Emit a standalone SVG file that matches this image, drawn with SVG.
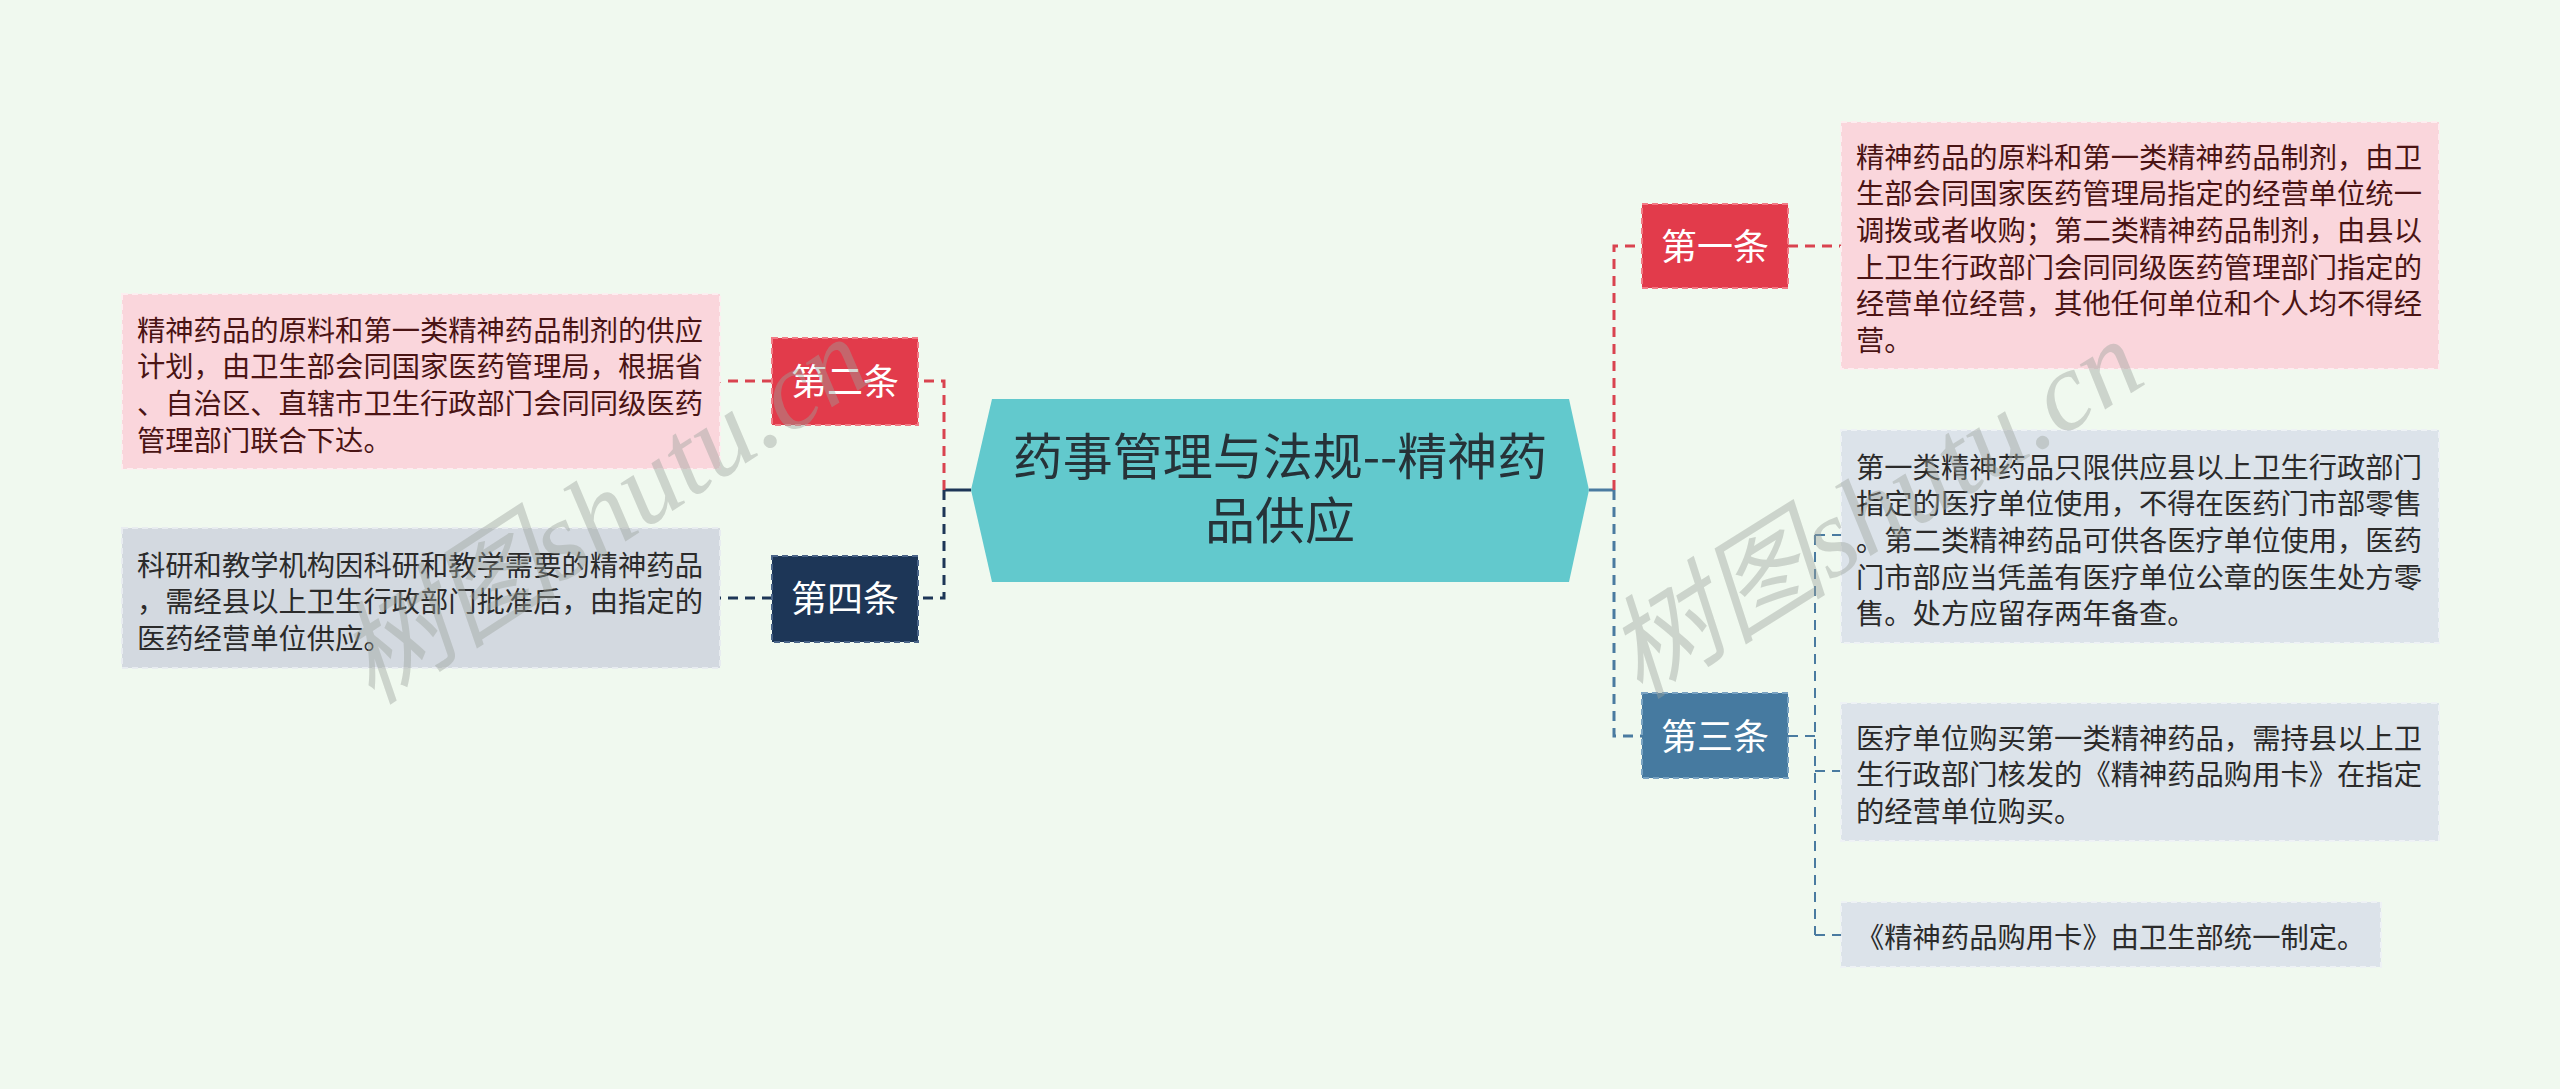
<svg xmlns="http://www.w3.org/2000/svg" width="2560" height="1089" viewBox="0 0 2560 1089">
<style>
.t{font-family:"Noto Sans CJK SC","Noto Sans",sans-serif;font-size:28.3px;fill:#2b2b2b}
.tr{fill:#4a1414}
.lab{font-family:"Noto Sans CJK SC","Noto Sans",sans-serif;font-size:36px;fill:#ffffff;text-anchor:middle}
.ctr{font-family:"Noto Sans CJK SC","Noto Sans",sans-serif;font-size:50px;fill:#263238;text-anchor:middle}
.c{fill:none;stroke-width:3;stroke-dasharray:10 7}
.cs{fill:none;stroke-width:2;stroke-dasharray:10 7}
.red{stroke:#d9434f}
.blue{stroke:#4a7ba0}
.navy{stroke:#1d3657}
.pink{fill:#fad6dc;stroke:#fdeef0;stroke-width:2;stroke-dasharray:6 4}
.grey{fill:#dce3ea;stroke:#eef2f5;stroke-width:2;stroke-dasharray:6 4}
.greyl{fill:#d3d9e0;stroke:#e8ecf0;stroke-width:2;stroke-dasharray:6 4}
.wm{font-family:"Liberation Serif","Noto Sans CJK SC",serif;font-size:112px;fill:#9aa39a;fill-opacity:0.42;font-style:italic}
</style>
<rect x="0" y="0" width="2560" height="1089" fill="#f0f9ef"/>

<g id="connectors">
  <line x1="1589" y1="490" x2="1614" y2="490" stroke="#4a7ba0" stroke-width="3"/>
  <path class="c red" d="M1614,490 V246 H1642"/>
  <path class="c red" d="M1788,246 H1841"/>
  <path class="c blue" d="M1614,490 V736 H1642"/>
  <path class="cs blue" d="M1788,736 H1815"/>
  <path class="cs blue" d="M1815,535 V935"/>
  <path class="cs blue" d="M1815,535 H1841"/>
  <path class="cs blue" d="M1815,771 H1841"/>
  <path class="cs blue" d="M1815,935 H1841"/>
  <line x1="971" y1="490" x2="944" y2="490" stroke="#1d3657" stroke-width="3"/>
  <path class="c red" d="M944,490 V381 H918"/>
  <path class="c red" d="M772,381 H720"/>
  <path class="c navy" d="M944,490 V598 H918"/>
  <path class="c navy" d="M772,598 H720"/>
</g>

<g id="center">
  <polygon points="992,399 1569,399 1589,490 1569,582 992,582 971,490" fill="#62c9cd"/>
  <text class="ctr" x="1280" y="475">药事管理与法规--精神药</text>
  <text class="ctr" x="1280" y="539">品供应</text>
</g>

<g id="n1">
  <rect x="1642" y="204" width="146" height="84" fill="#e23b4b" stroke="#f27a85" stroke-width="2" stroke-dasharray="6 4"/>
  <text class="lab" x="1715" y="260">第一条</text>
</g>
<g id="n1c">
  <rect class="pink" x="1841" y="122" width="598" height="247"/>
  <text class="t tr" x="1856" y="168">精神药品的原料和第一类精神药品制剂，由卫</text>
  <text class="t tr" x="1856" y="204.4">生部会同国家医药管理局指定的经营单位统一</text>
  <text class="t tr" x="1856" y="241">调拨或者收购；第二类精神药品制剂，由县以</text>
  <text class="t tr" x="1856" y="277.6">上卫生行政部门会同同级医药管理部门指定的</text>
  <text class="t tr" x="1856" y="314.2">经营单位经营，其他任何单位和个人均不得经</text>
  <text class="t tr" x="1856" y="350.8">营。</text>
</g>

<g id="n3">
  <rect x="1642" y="693" width="146" height="85" fill="#467aa0" stroke="#7aa3c2" stroke-width="2" stroke-dasharray="6 4"/>
  <text class="lab" x="1715" y="750">第三条</text>
</g>
<g id="n3c1">
  <rect class="grey" x="1841" y="430" width="598" height="213"/>
  <text class="t" x="1856" y="477.8">第一类精神药品只限供应县以上卫生行政部门</text>
  <text class="t" x="1856" y="514.4">指定的医疗单位使用，不得在医药门市部零售</text>
  <text class="t" x="1856" y="551">。第二类精神药品可供各医疗单位使用，医药</text>
  <text class="t" x="1856" y="587.6">门市部应当凭盖有医疗单位公章的医生处方零</text>
  <text class="t" x="1856" y="624.2">售。处方应留存两年备查。</text>
</g>
<g id="n3c2">
  <rect class="grey" x="1841" y="703" width="598" height="138"/>
  <text class="t" x="1856" y="748.8">医疗单位购买第一类精神药品，需持县以上卫</text>
  <text class="t" x="1856" y="785.4">生行政部门核发的《精神药品购用卡》在指定</text>
  <text class="t" x="1856" y="822">的经营单位购买。</text>
</g>
<g id="n3c3">
  <rect class="grey" x="1841" y="902" width="540" height="65"/>
  <text class="t" x="1856" y="947.8">《精神药品购用卡》由卫生部统一制定。</text>
</g>

<g id="n2">
  <rect x="772" y="338" width="146" height="87" fill="#e23b4b" stroke="#f27a85" stroke-width="2" stroke-dasharray="6 4"/>
  <text class="lab" x="845" y="395">第二条</text>
</g>
<g id="n2c">
  <rect class="pink" x="122" y="294" width="598" height="175"/>
  <text class="t tr" x="137" y="340.8">精神药品的原料和第一类精神药品制剂的供应</text>
  <text class="t tr" x="137" y="377.4">计划，由卫生部会同国家医药管理局，根据省</text>
  <text class="t tr" x="137" y="414">、自治区、直辖市卫生行政部门会同同级医药</text>
  <text class="t tr" x="137" y="450.6">管理部门联合下达。</text>
</g>

<g id="n4">
  <rect x="772" y="556" width="146" height="86" fill="#1d3657" stroke="#4a6488" stroke-width="2" stroke-dasharray="6 4"/>
  <text class="lab" x="845" y="612">第四条</text>
</g>
<g id="n4c">
  <rect class="greyl" x="122" y="528" width="598" height="140"/>
  <text class="t" x="137" y="575.8">科研和教学机构因科研和教学需要的精神药品</text>
  <text class="t" x="137" y="612.4">，需经县以上卫生行政部门批准后，由指定的</text>
  <text class="t" x="137" y="649">医药经营单位供应。</text>
</g>

<g id="watermarks">
  <text class="wm" x="0" y="0" transform="translate(372,706) rotate(-33)">树图shutu.cn</text>
  <text class="wm" x="0" y="0" transform="translate(1640,700) rotate(-32)">树图shutu.cn</text>
</g>
</svg>
